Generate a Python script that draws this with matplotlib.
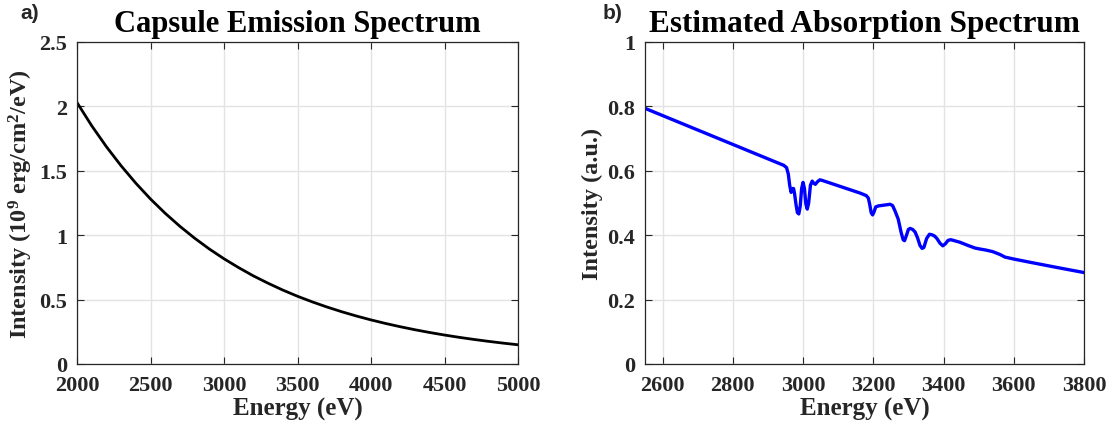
import matplotlib
matplotlib.use("Agg")
import matplotlib.pyplot as plt
from matplotlib.ticker import FuncFormatter

# ---- data ----
emis_energy = [2000, 2100, 2200, 2300, 2400, 2500, 2600, 2700, 2800, 2900,
               3000, 3100, 3200, 3300, 3400, 3500, 3600, 3700, 3800, 3900,
               4000, 4100, 4200, 4300, 4400, 4500, 4600, 4700, 4800, 4900, 5000]
emis_intensity = [2.030, 1.850, 1.687, 1.539, 1.404, 1.281, 1.170, 1.069, 0.977, 0.893,
                  0.817, 0.748, 0.684, 0.627, 0.574, 0.526, 0.4825, 0.4426, 0.4061, 0.3728,
                  0.3423, 0.3145, 0.2891, 0.2658, 0.2444, 0.2249, 0.2070, 0.1907, 0.1757,
                  0.1619, 0.1493]

abs_energy = [2550, 2945, 2953, 2958, 2962, 2966, 2970, 2973, 2976, 2980, 2984, 2988,
              2992, 2996, 3000, 3004, 3008, 3012, 3016, 3021, 3026, 3030, 3035, 3041,
              3048, 3055, 3162, 3180, 3186, 3190, 3194, 3198, 3202, 3207, 3215, 3248,
              3255, 3262, 3271, 3279, 3285, 3289, 3294, 3300, 3305, 3312, 3319, 3326,
              3333, 3339, 3344, 3352, 3360, 3368, 3375, 3381, 3390, 3398, 3405, 3413,
              3421, 3447, 3470, 3490, 3504, 3520, 3540, 3561, 3575, 3600, 3646, 3722, 3800]
abs_intensity = [0.794, 0.617, 0.610, 0.590, 0.555, 0.533, 0.545, 0.545, 0.528, 0.495,
                 0.470, 0.466, 0.490, 0.545, 0.564, 0.545, 0.497, 0.481, 0.500, 0.555,
                 0.568, 0.562, 0.558, 0.566, 0.572, 0.570, 0.531, 0.523, 0.515, 0.495,
                 0.470, 0.463, 0.472, 0.488, 0.491, 0.496, 0.492, 0.475, 0.450, 0.410,
                 0.386, 0.383, 0.398, 0.418, 0.421, 0.418, 0.410, 0.392, 0.368, 0.359,
                 0.362, 0.390, 0.403, 0.401, 0.397, 0.390, 0.375, 0.367, 0.373, 0.384,
                 0.386, 0.378, 0.368, 0.360, 0.357, 0.354, 0.349, 0.340, 0.332, 0.326,
                 0.316, 0.300, 0.284]

emis_xticks = [2000, 2500, 3000, 3500, 4000, 4500, 5000]
emis_yticks = [0, 0.5, 1, 1.5, 2, 2.5]
abs_xticks = [2600, 2800, 3000, 3200, 3400, 3600, 3800]
abs_yticks = [0, 0.2, 0.4, 0.6, 0.8, 1]

# ---- style ----
plt.rcParams['font.family'] = ['Liberation Serif', 'DejaVu Serif']
plt.rcParams['font.weight'] = 'bold'
plt.rcParams['mathtext.fontset'] = 'custom'
plt.rcParams['mathtext.rm'] = 'Liberation Serif:bold'
plt.rcParams['mathtext.it'] = 'Liberation Serif:italic:bold'
plt.rcParams['mathtext.bf'] = 'Liberation Serif:bold'

AX_COL = '#262626'
GRID_COL = '#e3e3e3'

fig = plt.figure(figsize=(11.13, 4.31), dpi=100)
W, H = 1113, 431
ax1 = fig.add_axes([77 / W, (H - 365) / H, 441 / W, 322 / H])
ax2 = fig.add_axes([645 / W, (H - 365) / H, 439 / W, 322 / H])

fmt = FuncFormatter(lambda v, p: ('%g' % v))


def style(ax):
    for s in ax.spines.values():
        s.set_color(AX_COL)
        s.set_linewidth(0.9)
    ax.tick_params(direction='in', top=True, right=True, length=5, width=0.8,
                   colors=AX_COL, labelsize=16)
    ax.tick_params(axis='x', pad=8)
    ax.tick_params(axis='y', pad=7)
    for lab in ax.get_xticklabels() + ax.get_yticklabels():
        lab.set_fontweight('bold')
    ax.grid(True, color=GRID_COL, linewidth=1.0)
    ax.set_axisbelow(True)
    ax.xaxis.set_major_formatter(fmt)
    ax.yaxis.set_major_formatter(fmt)


ax1.plot(emis_energy, emis_intensity, color='black', linewidth=2.0)
ax1.set_xlim(2000, 5000)
ax1.set_ylim(0, 2.5)
ax1.set_xticks(emis_xticks)
ax1.set_yticks(emis_yticks)
style(ax1)
ax1.set_title('Capsule Emission Spectrum', fontsize=22, fontweight='bold', pad=8)
ax1.set_xlabel('Energy (eV)', fontsize=18, fontweight='bold', labelpad=1, color='#262626')
ax1.set_ylabel(r'Intensity (10$^{\mathrm{9}}$ erg/cm$^{\mathrm{2}}$/eV)', fontsize=17.5,
               fontweight='bold', labelpad=3, color='#262626')

ax2.plot(abs_energy, abs_intensity, color='#0000ff', linewidth=2.4)
ax2.set_xlim(2550, 3800)
ax2.set_ylim(0, 1)
ax2.set_xticks(abs_xticks)
ax2.set_yticks(abs_yticks)
style(ax2)
ax2.set_title('Estimated Absorption Spectrum', fontsize=22.5, fontweight='bold', pad=8)
ax2.set_xlabel('Energy (eV)', fontsize=18, fontweight='bold', labelpad=1, color='#262626')
ax2.set_ylabel('Intensity (a.u.)', fontsize=17.5, fontweight='bold', labelpad=3, color='#262626')

fig.text(20 / W, 1 - 4 / H, 'a)', family=['Liberation Sans'], fontsize=15,
         fontweight='bold', va='top', ha='left', color='#262626')
fig.text(603 / W, 1 - 4 / H, 'b)', family=['Liberation Sans'], fontsize=15,
         fontweight='bold', va='top', ha='left', color='#262626')

fig.savefig('out.png', dpi=100)
